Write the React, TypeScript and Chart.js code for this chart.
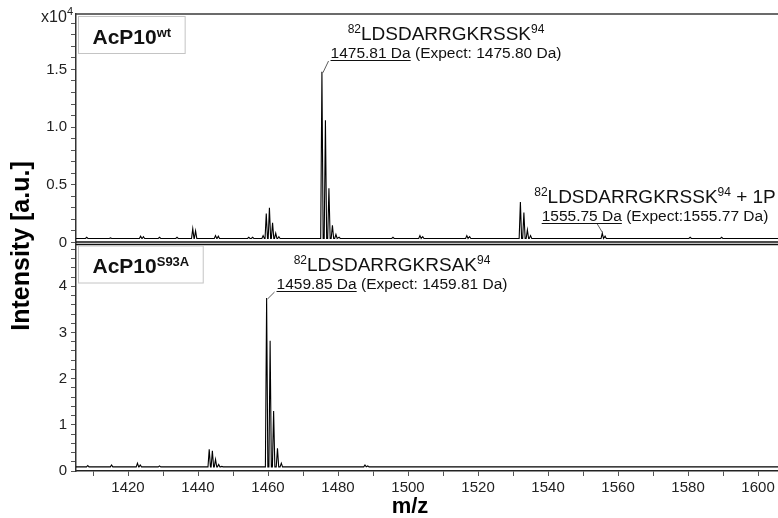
import React, { useEffect, useRef } from 'react';
import { Chart, registerables } from 'chart.js';

Chart.register(...registerables);

const FONT = "'Liberation Sans', Arial, Helvetica, sans-serif";

// ---- axis ranges / ticks ----
const MZ_MIN = 1405.14;
const MZ_MAX = 1605.7;
const X_TICK_STEP = 10;
const X_LABEL_STEP = 20;
const TOP_Y_MAX = 1.98;
const TOP_Y_STEP = 0.1;
const TOP_LABEL_STEP = 0.5;
const BOT_Y_MAX = 4.95;
const BOT_Y_STEP = 0.2;
const BOT_LABEL_STEP = 1;

// ---- AcP10 wt spectrum (intensity x10^4) ----
const wtMz = [
  1408.2, 1415.0, 1423.6, 1424.4, 1429.0, 1434.0, 1438.5, 1439.3, 1445.0, 1445.8,
  1454.5, 1455.6, 1458.6, 1459.5, 1460.4, 1461.3, 1462.2, 1463.1,
  1475.4, 1476.4, 1477.4, 1478.4, 1479.4, 1480.3,
  1495.7, 1503.4, 1504.2, 1516.8, 1517.6,
  1532.1, 1533.1, 1534.1, 1535.0,
  1555.5, 1556.3, 1580.6, 1589.6,
];
const wtIntensity = [
  0.045, 0.04, 0.055, 0.05, 0.045, 0.045, 0.12, 0.10, 0.06, 0.055,
  0.045, 0.045, 0.06, 0.25, 0.30, 0.17, 0.08, 0.05,
  1.48, 1.06, 0.47, 0.15, 0.07, 0.045,
  0.045, 0.06, 0.05, 0.06, 0.05,
  0.35, 0.26, 0.11, 0.06,
  0.08, 0.055, 0.045, 0.045,
];
const wtBaseline = 0.035;

// ---- AcP10 S93A spectrum (intensity x10^4) ----
const mutMz = [
  1408.5, 1415.3, 1422.7, 1423.5, 1429.0,
  1443.2, 1444.1, 1445.0, 1445.9, 1446.8,
  1459.6, 1460.6, 1461.6, 1462.7, 1463.8,
  1487.7, 1488.5,
];
const mutIntensity = [
  0.12, 0.13, 0.17, 0.13, 0.11,
  0.47, 0.44, 0.25, 0.14, 0.10,
  3.75, 2.82, 1.30, 0.49, 0.17,
  0.13, 0.11,
];
const mutBaseline = 0.09;

// ---- text ----
const sampleNames = ['AcP10', 'AcP10'];
const sampleSups = ['wt', 'S93A'];
const residueStart = '82';
const residueEnd = '94';
const peptideSeqs = ['LDSDARRGKRSSK', 'LDSDARRGKRSSK', 'LDSDARRGKRSAK'];
const peptideSuffix = ['', ' + 1P', ''];
const observedMass = ['1475.81 Da', '1555.75 Da', '1459.85 Da'];
const expectedText = [' (Expect: 1475.80 Da)', ' (Expect:1555.77 Da)', ' (Expect: 1459.81 Da)'];
const annotatedPeakMz = [1475.4, 1555.5, 1459.6];
const yTitle = 'Intensity [a.u.]';
const xTitle = 'm/z';

const PEAK_HW = 0.35;

function spectrum(mz: number[], inten: number[], base: number) {
  const pts: { x: number; y: number }[] = [{ x: MZ_MIN, y: base }];
  mz.forEach((m, i) => {
    pts.push({ x: m - PEAK_HW, y: base }, { x: m, y: inten[i] }, { x: m + PEAK_HW, y: base });
  });
  pts.push({ x: MZ_MAX, y: base });
  return pts;
}

type Seg = { t: string; size: number; bold?: boolean; rise?: number };
const segFont = (s: Seg) => `${s.bold ? 'bold ' : ''}${s.size}px ${FONT}`;
function richWidth(ctx: CanvasRenderingContext2D, segs: Seg[]) {
  let w = 0;
  for (const s of segs) {
    ctx.font = segFont(s);
    w += ctx.measureText(s.t).width;
  }
  return w;
}
function drawRich(ctx: CanvasRenderingContext2D, segs: Seg[], x: number, y: number) {
  ctx.textAlign = 'left';
  ctx.textBaseline = 'alphabetic';
  let cx = x;
  for (const s of segs) {
    ctx.font = segFont(s);
    ctx.fillText(s.t, cx, y - (s.rise || 0));
    cx += ctx.measureText(s.t).width;
  }
  return cx;
}

function line(ctx: CanvasRenderingContext2D, x1: number, y1: number, x2: number, y2: number) {
  ctx.beginPath();
  ctx.moveTo(x1, y1);
  ctx.lineTo(x2, y2);
  ctx.stroke();
}

const overlayPlugin = {
  id: 'overlay',
  afterDraw(chart: any) {
    const ctx: CanvasRenderingContext2D = chart.ctx;
    const { left, right, top } = chart.chartArea;
    const xs = chart.scales.x;
    const yT = chart.scales.yTop;
    const yB = chart.scales.yBot;
    const sep = yT.bottom;
    ctx.save();

    // frame top & separator
    ctx.strokeStyle = '#3a3a3a';
    ctx.lineWidth = 1.5;
    line(ctx, left, top, right, top);
    ctx.strokeStyle = '#111';
    ctx.lineWidth = 1.4;
    line(ctx, left, sep - 0.5, right, sep - 0.5);
    line(ctx, left, sep + 2, right, sep + 2);

    // sample boxes
    const boxTops = [top + 2, sep + 3];
    [0, 1].forEach((i) => {
      const segs: Seg[] = [
        { t: sampleNames[i], size: 21, bold: true },
        { t: sampleSups[i], size: 13, bold: true, rise: 7 },
      ];
      const w = richWidth(ctx, segs);
      const bx = left + 2.5;
      const by = boxTops[i] + 0.5;
      const bw = w + 28;
      const bh = 37;
      ctx.fillStyle = '#fff';
      ctx.fillRect(bx, by, bw, bh);
      ctx.strokeStyle = '#c4c4c4';
      ctx.lineWidth = 1;
      ctx.strokeRect(bx, by, bw, bh);
      ctx.fillStyle = '#111';
      drawRich(ctx, segs, bx + 14, by + 27);
    });

    // x10^4
    ctx.fillStyle = '#222';
    const expSegs: Seg[] = [
      { t: 'x10', size: 16 },
      { t: '4', size: 11, rise: 7 },
    ];
    const ew = richWidth(ctx, expSegs);
    drawRich(ctx, expSegs, left - 3 - ew, top + 8);

    // peak annotations
    const layouts = [
      { scale: yT, mz: wtMz, inten: wtIntensity, cx: 446, b1: 40, b2: 58, leader: 'left' },
      { scale: yT, mz: wtMz, inten: wtIntensity, cx: 655, b1: 203, b2: 221, leader: 'mid' },
      { scale: yB, mz: mutMz, inten: mutIntensity, cx: 392, b1: 271, b2: 289, leader: 'left' },
    ];
    layouts.forEach((L, i) => {
      const idx = L.mz.indexOf(annotatedPeakMz[i]);
      const px = xs.getPixelForValue(L.mz[idx]);
      const py = L.scale.getPixelForValue(L.inten[idx]);
      ctx.fillStyle = '#111';
      const l1: Seg[] = [
        { t: residueStart, size: 12, rise: 7 },
        { t: peptideSeqs[i], size: 19 },
        { t: residueEnd, size: 12, rise: 7 },
      ];
      if (peptideSuffix[i]) l1.push({ t: peptideSuffix[i], size: 19 });
      const w1 = richWidth(ctx, l1);
      drawRich(ctx, l1, L.cx - w1 / 2, L.b1);
      const l2: Seg[] = [
        { t: observedMass[i], size: 15.5 },
        { t: expectedText[i], size: 15.5 },
      ];
      const w2 = richWidth(ctx, l2);
      const x2 = L.cx - w2 / 2;
      drawRich(ctx, l2, x2, L.b2);
      ctx.font = segFont(l2[0]);
      const uw = ctx.measureText(observedMass[i]).width;
      const uy = L.b2 + 2.5;
      ctx.strokeStyle = '#111';
      ctx.lineWidth = 1;
      line(ctx, x2, uy, x2 + uw, uy);
      ctx.strokeStyle = '#333';
      ctx.lineWidth = 0.8;
      if (L.leader === 'left') {
        line(ctx, x2 - 2, uy + 0.5, px + 1, py + 1);
      } else {
        line(ctx, px - 5, uy + 0.5, px, py - 1);
      }
    });

    // axis titles
    ctx.fillStyle = '#000';
    ctx.font = `bold 25px ${FONT}`;
    ctx.textAlign = 'center';
    ctx.textBaseline = 'middle';
    ctx.save();
    ctx.translate(22, 246);
    ctx.rotate(-Math.PI / 2);
    ctx.fillText(yTitle, 0, 0);
    ctx.restore();
    ctx.font = `bold 22px ${FONT}`;
    ctx.fillText(xTitle, xs.getPixelForValue(1500) + 2, 507);

    ctx.restore();
  },
};

const isMultiple = (v: number, step: number) => Math.abs(v / step - Math.round(v / step)) < 1e-6;

export default function App() {
  const ref = useRef<HTMLCanvasElement>(null);
  useEffect(() => {
    if (!ref.current) return;
    Chart.defaults.font.family = FONT;
    const yCommon = (max: number, step: number, labelStep: number, fmt: (v: number) => string) => ({
      type: 'linear' as const,
      position: 'left' as const,
      stack: 'spec',
      stackWeight: 1,
      min: 0,
      max,
      border: { color: '#333', width: 1.5 },
      grid: { drawOnChartArea: false, drawTicks: true, tickLength: 5, color: '#555', lineWidth: 1 },
      ticks: {
        stepSize: step,
        maxTicksLimit: 1000,
        autoSkip: false,
        includeBounds: false,
        padding: 4,
        color: '#222',
        font: { size: 15, family: FONT },
        callback: (v: any) => (isMultiple(Number(v), labelStep) ? fmt(Number(v)) : ''),
      },
      afterFit: (s: any) => {
        s.width = 76;
      },
    });
    const chart = new Chart(ref.current, {
      type: 'line',
      data: {
        datasets: [
          {
            data: spectrum(mutMz, mutIntensity, mutBaseline),
            yAxisID: 'yBot',
            borderColor: '#000',
            borderWidth: 1.1,
            pointRadius: 0,
            tension: 0,
            fill: false,
          },
          {
            data: spectrum(wtMz, wtIntensity, wtBaseline),
            yAxisID: 'yTop',
            borderColor: '#000',
            borderWidth: 1.1,
            pointRadius: 0,
            tension: 0,
            fill: false,
          },
        ],
      },
      options: {
        responsive: false,
        animation: false,
        parsing: false as any,
        layout: { padding: { top: 14, left: 0, right: 0, bottom: 0 } },
        plugins: { legend: { display: false }, tooltip: { enabled: false } },
        scales: {
          x: {
            type: 'linear',
            min: MZ_MIN,
            max: MZ_MAX,
            border: { color: '#222', width: 1.5 },
            grid: { drawOnChartArea: false, drawTicks: true, tickLength: 5, color: '#555' },
            ticks: {
              stepSize: X_TICK_STEP,
              maxTicksLimit: 1000,
              autoSkip: false,
              includeBounds: false,
              maxRotation: 0,
              padding: 3,
              color: '#222',
              font: { size: 15, family: FONT },
              callback: (v: any) => (isMultiple(Number(v), X_LABEL_STEP) ? String(Math.round(Number(v))) : ''),
            },
            afterFit: (s: any) => {
              s.height = 47;
            },
          },
          yBot: yCommon(BOT_Y_MAX, BOT_Y_STEP, BOT_LABEL_STEP, (v) => String(Math.round(v))),
          yTop: yCommon(TOP_Y_MAX, TOP_Y_STEP, TOP_LABEL_STEP, (v) => (v === 0 ? '0' : v.toFixed(1))),
        } as any,
      },
      plugins: [overlayPlugin],
    } as any);
    return () => chart.destroy();
  }, []);
  return (
    <div style={{ position: 'fixed', left: 0, top: 0, width: 778, height: 518, background: '#fff' }}>
      <canvas ref={ref} width={778} height={518} style={{ display: 'block', width: 778, height: 518 }} />
    </div>
  );
}
